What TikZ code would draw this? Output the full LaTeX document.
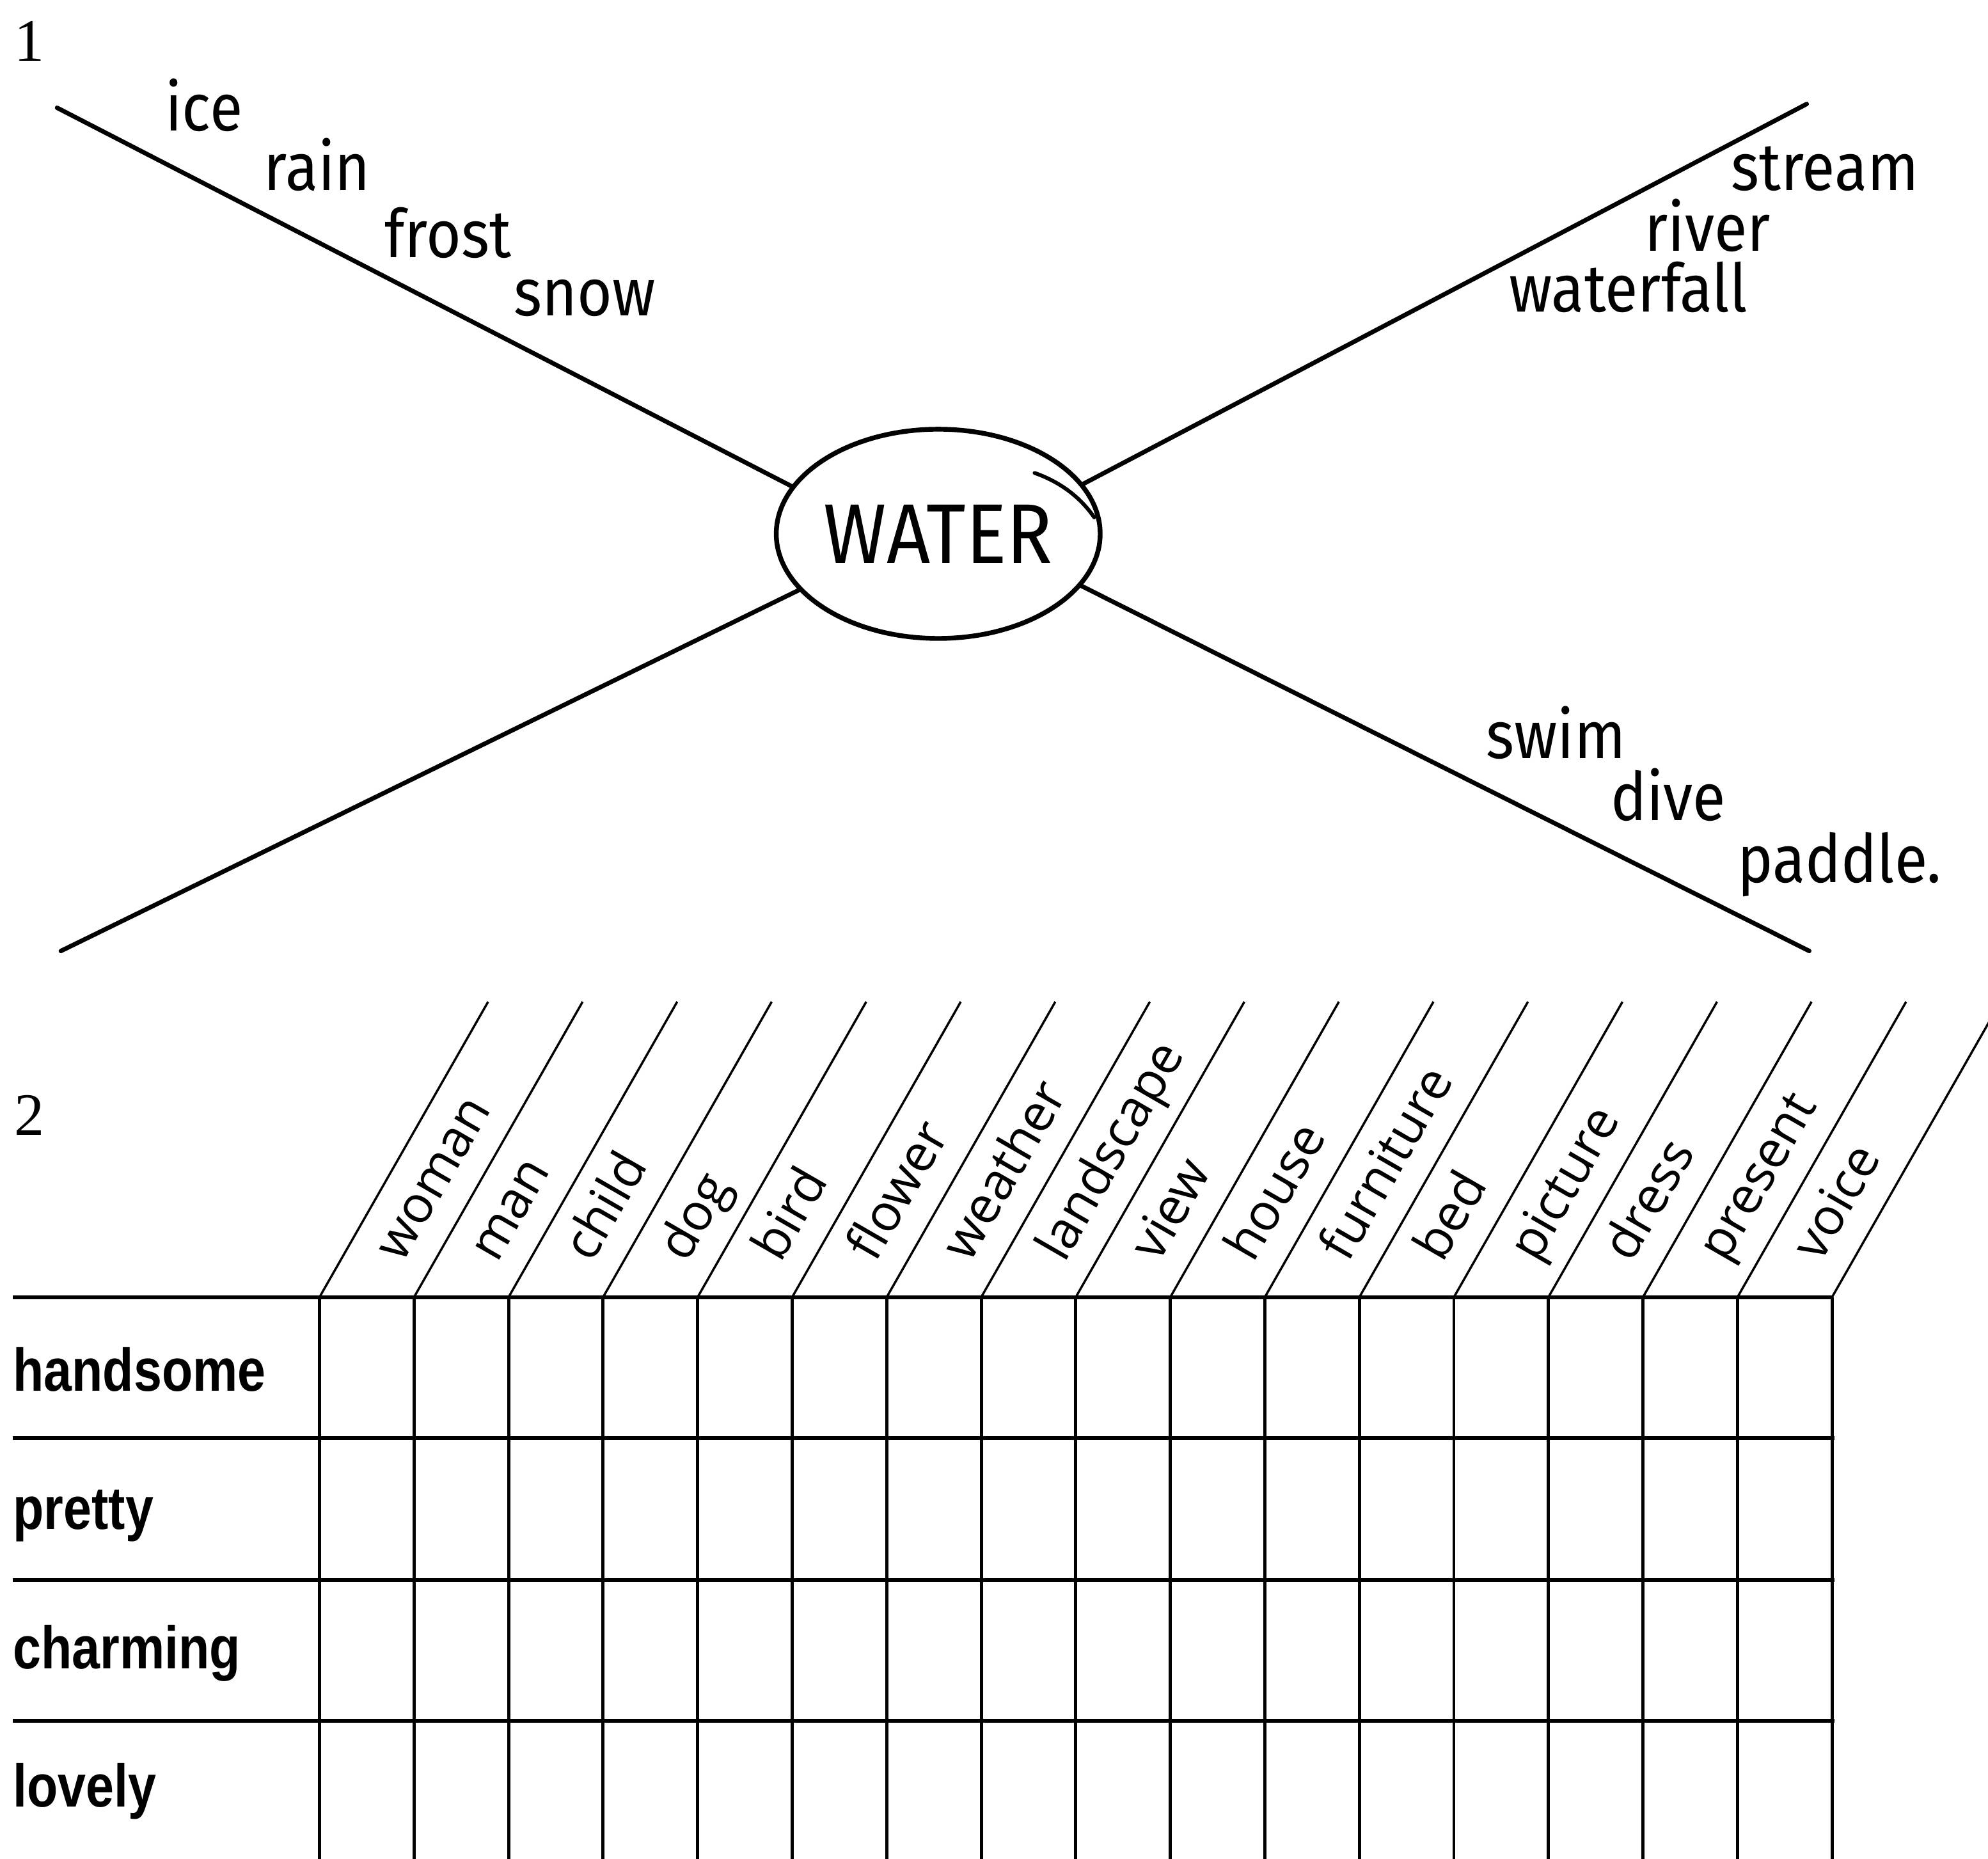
\documentclass[tikz,border=0pt]{standalone}
\usepackage{fontspec}
\setmainfont{Liberation Serif}
\newfontfamily\handfont[FakeStretch=0.9]{Fira Sans}
\newfontfamily\colfont{Open Sans}
\newfontfamily\rowfont[FakeStretch=0.84]{Liberation Sans}
\usepackage{tikz}
\usetikzlibrary{shapes.geometric,calc}

\begin{document}
\begin{tikzpicture}[x=0.2mm, y=-0.2mm,
    numlabel/.style={font=\fontsize{27}{32}\selectfont, anchor=base west, inner sep=0pt},
    handword/.style={font=\handfont\fontsize{30}{36}\selectfont, anchor=base west, inner sep=0pt},
    topicbox/.style={ellipse, draw=black, line width=0.75mm, inner sep=0pt, minimum width=49.8mm, minimum height=33mm, font=\handfont\fontsize{38}{45}\selectfont},
    spoke/.style={line width=0.7mm, line cap=round, black},
    rowword/.style={font=\rowfont\bfseries\fontsize{27}{32}\selectfont, anchor=base west, inner sep=0pt},
    colword/.style={font=\colfont\fontsize{23}{27}\selectfont, anchor=mid west, rotate=60, inner sep=0pt},
    gridline/.style={line width=0.5mm, black},
    rowline/.style={line width=0.6mm, black},
    slantline/.style={line width=0.35mm, black}
  ]
    \clip (0,0) rectangle (1568,1466);

    \node[numlabel] (num1) at (11,48) {1};
    \node[numlabel] (num2) at (11,895) {2};

    % mind map
    \node[topicbox] (water) at (740,421) {WATER};
    \draw[line width=0.6mm, line cap=round] (816,373) .. controls (836,380) and (852,392) .. (863,408);

    \coordinate (nw) at (45,85);
    \coordinate (ne) at (1425,82);
    \coordinate (sw) at (48,750);
    \coordinate (se) at (1427,750);
    \draw[spoke] (nw) -- (water.162);
    \draw[spoke] (ne) -- (water.19);
    \draw[spoke] (sw) -- (water.202);
    \draw[spoke] (se) -- (water.340);

    \node[handword] (ice) at (130,103) {ice};
    \node[handword] (rain) at (208,150) {rain};
    \node[handword] (frost) at (303,203) {frost};
    \node[handword] (snow) at (405,249) {snow};
    \node[handword] (stream) at (1365,150) {stream};
    \node[handword] (river) at (1297,198) {river};
    \node[handword] (waterfall) at (1190,246) {waterfall};
    \node[handword] (swim) at (1172,598) {swim};
    \node[handword] (dive) at (1270,647) {dive};
    \node[handword] (paddle) at (1370,696) {paddle.};

    % table
    \foreach \i in {0,...,16}
      \coordinate (c\i) at ({252+74.56*\i},1023);

    \draw[rowline] (10,1023) -- (c16);
    \foreach \y in {1134,1246,1357}
      \draw[rowline] (10,\y) -- (1447,\y);
    \foreach \i in {0,...,16} {
      \draw[gridline] (c\i) -- ++(0,443);
      \draw[slantline] (c\i) -- ++(133,-233);
    }

    \foreach \w [count=\i from 0] in {woman,man,child,dog,bird,flower,weather,landscape,view,house,furniture,bed,picture,dress,present,voice}
      \node[colword] (col\i) at ($(c\i)+(62,-28)$) {\w};

    \foreach \w/\y [count=\r] in {handsome/1097,pretty/1206,charming/1316,lovely/1425}
      \node[rowword] (row\r) at (10,\y) {\w};
\end{tikzpicture}
\end{document}
